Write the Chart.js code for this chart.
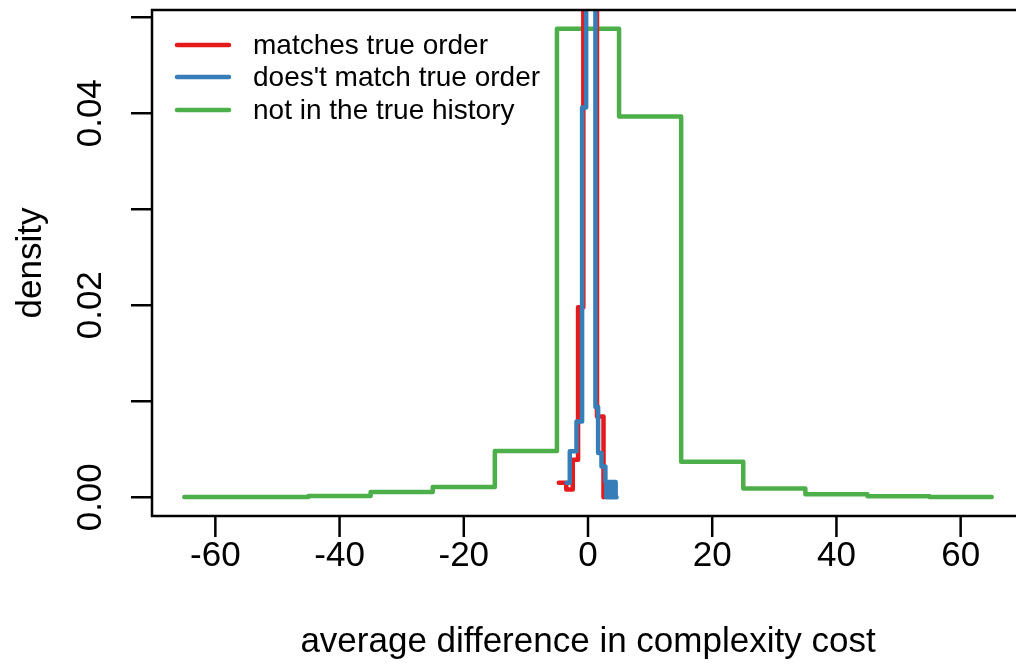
<!DOCTYPE html>
<html>
<head>
<meta charset="utf-8">
<script src="https://cdn.jsdelivr.net/npm/chart.js@4.4.1/dist/chart.umd.min.js"></script>
<style>
  html, body { margin: 0; padding: 0; background: #fff; overflow: hidden; }
  #wrap { width: 1040px; height: 664px; }
</style>
</head>
<body>
<div id="wrap"><canvas id="densityChart" width="1040" height="664"></canvas></div>
<script>
// step outlines of the three densities (x = left edge of each step)
const matchX = [-4.7, -3.5, -2.45, -1.6, -0.75, 1.45, 2.5];
const matchY = [0.0015, 0.0008, 0.0039, 0.0198, 0.13, 0.0084, 0];

const mismatchX = [-3.45, -2.93, -1.85, -0.95, -0.3, 1.2, 1.63, 2.17, 2.8, 2.95, 3.1, 3.25, 3.4, 3.55, 3.7, 3.85, 4.0, 4.15, 4.3, 4.45, 4.6];
const mismatchY = [0.0015, 0.0048, 0.0079, 0.0406, 0.12, 0.0094, 0.0046, 0.0032, 0.0016, 0, 0.0016, 0, 0.0016, 0, 0.0016, 0, 0.0016, 0, 0.0016, 0, 0];

const absentX = [-65, -55, -45, -35, -25, -15, -5, 5, 15, 25, 35, 45, 55, 65];
const absentY = [0.00003, 0.00003, 0.00014, 0.00055, 0.00107, 0.00481, 0.0488, 0.03965, 0.00371, 0.0009, 0.00032, 0.00011, 0.00004, 0.00004];

const seriesNames = ['matches true order', "does't match true order", 'not in the true history'];
const seriesColors = ['#E41A1C', '#377EB8', '#4DAF4A'];

const xTicks = [-60, -40, -20, 0, 20, 40, 60];
const xTickLabels = ['-60', '-40', '-20', '0', '20', '40', '60'];
const yTicks = [0, 0.01, 0.02, 0.03, 0.04, 0.05];
const yTickLabels = ['0.00', '', '0.02', '', '0.04', ''];

const FONT = '"Liberation Sans", Arial, Helvetica, sans-serif';

function toPoints(xs, ys) {
    return xs.map((v, i) => ({ x: v, y: ys[i] }));
}

// box, ticks, tick labels, axis titles and legend in base-graphics style
const baseAxes = {
    id: 'baseAxes',
    afterDraw(chart) {
        const { ctx, chartArea: a, scales: { x, y } } = chart;
        ctx.save();
        ctx.strokeStyle = '#000';
        ctx.fillStyle = '#000';
        ctx.lineWidth = 2.5;
        ctx.strokeRect(a.left, a.top, a.width, a.height);

        ctx.font = '35px ' + FONT;
        ctx.textAlign = 'center';
        ctx.textBaseline = 'alphabetic';
        xTicks.forEach((v, i) => {
            const px = x.getPixelForValue(v);
            ctx.beginPath();
            ctx.moveTo(px, a.bottom);
            ctx.lineTo(px, a.bottom + 21);
            ctx.stroke();
            ctx.fillText(xTickLabels[i], px, 566);
        });

        yTicks.forEach((v, i) => {
            const py = y.getPixelForValue(v);
            ctx.beginPath();
            ctx.moveTo(a.left, py);
            ctx.lineTo(a.left - 21, py);
            ctx.stroke();
            if (yTickLabels[i]) {
                ctx.save();
                ctx.translate(101, py);
                ctx.rotate(-Math.PI / 2);
                ctx.fillText(yTickLabels[i], 0, 0);
                ctx.restore();
            }
        });

        ctx.fillText('average difference in complexity cost', x.getPixelForValue(0), 652);
        ctx.save();
        ctx.translate(41, (a.top + a.bottom) / 2);
        ctx.rotate(-Math.PI / 2);
        ctx.fillText('density', 0, 0);
        ctx.restore();

        // legend
        ctx.font = '28px ' + FONT;
        ctx.textAlign = 'left';
        ctx.textBaseline = 'middle';
        ctx.lineWidth = 4.5;
        ctx.lineCap = 'round';
        const rows = [45, 77, 110];
        seriesNames.forEach((name, i) => {
            ctx.strokeStyle = seriesColors[i];
            ctx.beginPath();
            ctx.moveTo(177, rows[i]);
            ctx.lineTo(229, rows[i]);
            ctx.stroke();
            ctx.fillText(name, 253, rows[i] + 1);
        });
        ctx.restore();
    }
};

const ctx = document.getElementById('densityChart').getContext('2d');

new Chart(ctx, {
    type: 'line',
    data: {
        datasets: [{
            label: seriesNames[0],
            data: toPoints(matchX, matchY),
            borderColor: seriesColors[0],
            order: 1,
        }, {
            label: seriesNames[1],
            data: toPoints(mismatchX, mismatchY),
            borderColor: seriesColors[1],
            order: 0,
        }, {
            label: seriesNames[2],
            data: toPoints(absentX, absentY),
            borderColor: seriesColors[2],
            order: 2,
        }]
    },
    options: {
        responsive: false,
        animation: false,
        devicePixelRatio: 1,
        layout: {
            padding: { left: 152, top: 10, right: 16, bottom: 148 }
        },
        elements: {
            line: {
                borderWidth: 4.5,
                stepped: 'before',
                fill: false,
                borderJoinStyle: 'round',
                borderCapStyle: 'round',
            },
            point: { radius: 0, hoverRadius: 0 }
        },
        scales: {
            x: { type: 'linear', min: -70.2, max: 70.2, display: false },
            y: { type: 'linear', min: -0.001952, max: 0.050752, display: false }
        },
        plugins: {
            legend: { display: false },
            tooltip: { enabled: false },
        },
    },
    plugins: [baseAxes]
});
</script>
</body>
</html>
